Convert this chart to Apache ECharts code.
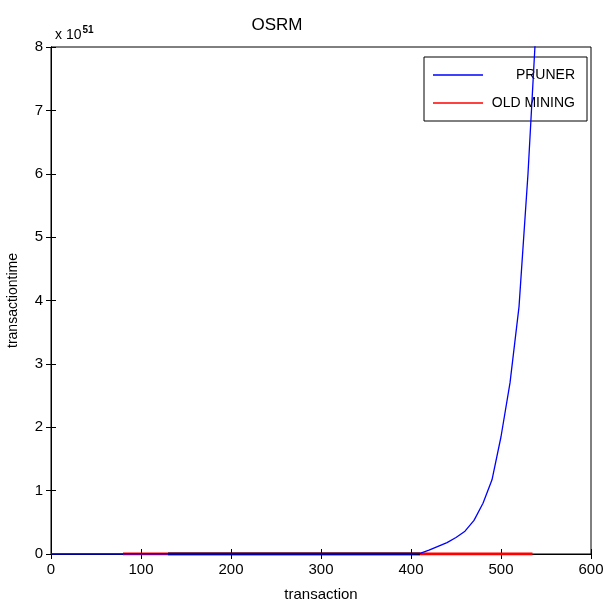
<!DOCTYPE html>
<html>
<head>
<meta charset="utf-8">
<script src="https://cdn.jsdelivr.net/npm/echarts@6/dist/echarts.min.js"></script>
<style>html,body{margin:0;padding:0;background:#fff}#c{width:605px;height:603px}</style>
</head>
<body>
<div id="c"></div>
<script>
// Data (y values in units of 1e51)
var prunerX = [0, 100, 200, 300, 400, 410, 420, 430, 440, 450, 460, 470, 480, 490, 500, 510, 520, 530, 540];
var prunerY = [0, 0, 0, 0, 0, 0.01, 0.06, 0.12, 0.18, 0.26, 0.36, 0.53, 0.8, 1.17, 1.85, 2.7, 3.9, 6.0, 8.6];
var oldMiningX = [80, 535];
var oldMiningY = [0, 0];
var darkSegX = [130, 410];
var darkSegY = [0, 0];
var xTicks = [0, 100, 200, 300, 400, 500, 600];
var yTicks = [0, 1, 2, 3, 4, 5, 6, 7, 8];
var seriesNames = ['PRUNER', 'OLD MINING'];
var titleText = 'OSRM';
var xName = 'transaction';
var yName = 'transactiontime';

function pairs(xs, ys) { return xs.map(function (x, i) { return [x, ys[i]]; }); }

var font = '"Liberation Sans Narrow", "Liberation Sans", Arial, sans-serif';
var chart = echarts.init(document.getElementById('c'), null, {renderer: 'canvas'});
var axisCommon = {
  type: 'value',
  axisLine: {show: true, lineStyle: {color: '#000', width: 1}},
  axisTick: {show: true, inside: true, length: 5, lineStyle: {color: '#000'}},
  splitLine: {show: false}
};
chart.setOption({
  animation: false,
  backgroundColor: '#fff',
  title: [
    {text: titleText, left: 272, top: 12, textAlign: 'center',
     textStyle: {fontFamily: font, fontSize: 17, fontWeight: 'normal', color: '#000'}},
    {text: 'x 10{s|51}', left: 50, top: 20,
     textStyle: {fontFamily: font, fontSize: 14, fontWeight: 'normal', color: '#000',
       rich: {s: {fontSize: 10, fontWeight: 'bold', verticalAlign: 'top', padding: [0, 0, 10, 1], color: '#000'}}}}
  ],
  grid: {left: 51, right: 14, top: 47, bottom: 49, show: true, borderColor: '#000', borderWidth: 1,
         containLabel: false, outerBoundsMode: 'none'},
  legend: {
    data: seriesNames, orient: 'vertical', right: 18, top: 57,
    backgroundColor: '#fff', borderColor: '#000', borderWidth: 1,
    icon: 'rect',
    padding: [11, 12, 11, 9], itemGap: 14, itemWidth: 50, itemHeight: 1.5,
    formatter: function (n) { return '{r|' + n + '}'; },
    textStyle: {fontFamily: 'Liberation Sans, Arial, sans-serif', fontSize: 14, color: '#000',
      rich: {r: {width: 87, height: 16, align: 'right', fontSize: 14, fontFamily: 'Liberation Sans, Arial, sans-serif'}}}
  },
  xAxis: [
    Object.assign({}, axisCommon, {
      min: xTicks[0], max: xTicks[xTicks.length - 1], interval: 100,
      name: xName, nameLocation: 'middle', nameGap: 33,
      nameTextStyle: {fontFamily: font, fontSize: 15, color: '#000'},
      axisLabel: {margin: 8, fontFamily: font, fontSize: 15, color: '#000'}
    }),
    Object.assign({}, axisCommon, {
      position: 'top', min: xTicks[0], max: xTicks[xTicks.length - 1], interval: 100,
      axisLabel: {show: false}
    })
  ],
  yAxis: [
    Object.assign({}, axisCommon, {
      min: yTicks[0], max: yTicks[yTicks.length - 1], interval: 1,
      name: yName, nameLocation: 'middle', nameGap: 31, nameRotate: 90,
      nameTextStyle: {fontFamily: font, fontSize: 14, color: '#000'},
      axisLabel: {margin: 8, fontFamily: font, fontSize: 15, color: '#000'}
    }),
    Object.assign({}, axisCommon, {
      position: 'right', min: yTicks[0], max: yTicks[yTicks.length - 1], interval: 1,
      axisLabel: {show: false}
    })
  ],
  series: [
    {name: 'OLD MINING', type: 'line', data: pairs(oldMiningX, oldMiningY), symbol: 'none',
     color: '#ff0000', lineStyle: {color: '#ff0000', width: 3}, z: 2},
    {name: 'dark', type: 'line', data: pairs(darkSegX, darkSegY), symbol: 'none',
     color: '#000033', lineStyle: {color: '#000033', width: 3}, z: 3},
    {name: 'PRUNER', type: 'line', data: pairs(prunerX, prunerY), symbol: 'none',
     color: '#0000ff', lineStyle: {color: '#0000ff', width: 1.3}, z: 4}
  ]
});
</script>
</body>
</html>
